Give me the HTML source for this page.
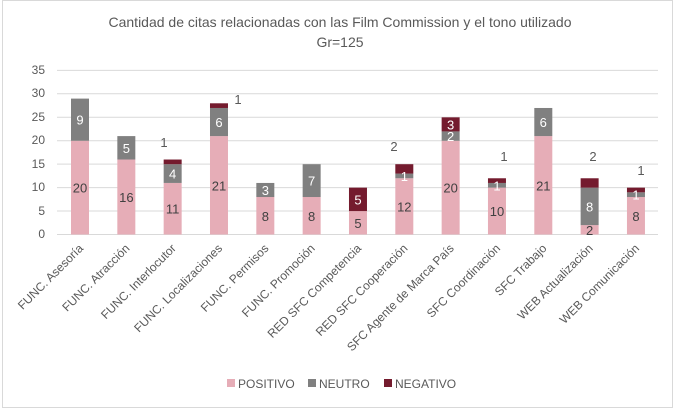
<!DOCTYPE html><html><head><meta charset="utf-8"><style>body{margin:0;background:#fff}svg{display:block;font-family:"Liberation Sans",sans-serif}</style></head><body>
<svg width="682" height="420" viewBox="0 0 682 420">
<rect x="2.5" y="0.5" width="670" height="407" fill="#fff" stroke="#d9d9d9"/>
<text x="340" y="27" font-size="14" fill="#595959" text-anchor="middle">Cantidad de citas relacionadas con las Film Commission y el tono utilizado</text>
<text x="340" y="47" font-size="14" fill="#595959" text-anchor="middle">Gr=125</text>
<g stroke="#d9d9d9" stroke-width="1">
<line x1="57" x2="658" y1="234.5" y2="234.5"/><line x1="57" x2="658" y1="211" y2="211"/><line x1="57" x2="658" y1="187.6" y2="187.6"/><line x1="57" x2="658" y1="164.1" y2="164.1"/><line x1="57" x2="658" y1="140.7" y2="140.7"/><line x1="57" x2="658" y1="117.3" y2="117.3"/><line x1="57" x2="658" y1="93.8" y2="93.8"/><line x1="57" x2="658" y1="70.4" y2="70.4"/>
</g>
<g font-size="12" fill="#595959" text-anchor="end">
<text x="45" y="238">0</text><text x="45" y="215">5</text><text x="45" y="191">10</text><text x="45" y="168">15</text><text x="45" y="144">20</text><text x="45" y="121">25</text><text x="45" y="97">30</text><text x="45" y="74">35</text>
</g>
<g id="bars"></g>
<g id="labels" font-size="12" fill="#595959"></g>
<g font-size="12" fill="#595959">
<rect x="227" y="379" width="8" height="8" fill="#e6adb7"/><text x="238" y="388">POSITIVO</text>
<rect x="308" y="379" width="8" height="8" fill="#808080"/><text x="319" y="388">NEUTRO</text>
<rect x="384" y="379" width="8" height="8" fill="#741b2e"/><text x="395" y="388">NEGATIVO</text>
</g>
<script>
var d=[["FUNC. Asesoría",20,9,0],["FUNC. Atracción",16,5,0],["FUNC. Interlocutor",11,4,1],["FUNC. Localizaciones",21,6,1],["FUNC. Permisos",8,3,0],["FUNC. Promoción",8,7,0],["RED SFC Competencia",5,0,5],["RED SFC Cooperación",12,1,2],["SFC Agente de Marca País",20,2,3],["SFC Coordinación",10,1,1],["SFC Trabajo",21,6,0],["WEB Actualización",2,8,2],["WEB Comunicación",8,1,1]];
var ns="http://www.w3.org/2000/svg",B=document.getElementById("bars"),L=document.getElementById("labels");
function y(v){return 234.5-4.686*v}
function el(p,t,a,tx){var e=document.createElementNS(ns,t);for(var k in a)e.setAttribute(k,a[k]);if(tx!=null)e.textContent=tx;p.appendChild(e);return e}
var cols=["#e6adb7","#808080","#741b2e"],tc=["#404040","#fff","#fff"];
var outside={2:[164,147],3:[238,104],7:[394,151],9:[504,161],11:[593,161],12:[641,175]};
d.forEach(function(r,i){var cx=80+46.33*i,b=0;
for(var s=0;s<3;s++){var v=r[s+1];if(!v)continue;
el(B,"rect",{x:cx-9,y:y(b+v),width:18,height:y(b)-y(b+v),fill:cols[s]});
var my=(y(b)+y(b+v))/2;
if(s==2&&outside[i]){el(L,"text",{x:outside[i][0],y:outside[i][1],"text-anchor":"middle","font-size":13},v)}
else el(L,"text",{x:cx,y:my+5,"text-anchor":"middle",fill:tc[s],"font-size":13},v);
b+=v;}
el(L,"text",{x:0,y:0,"text-anchor":"end",transform:"translate("+(cx+4)+",249) rotate(-45)"},r[0]);
});
</script>
</svg></body></html>
